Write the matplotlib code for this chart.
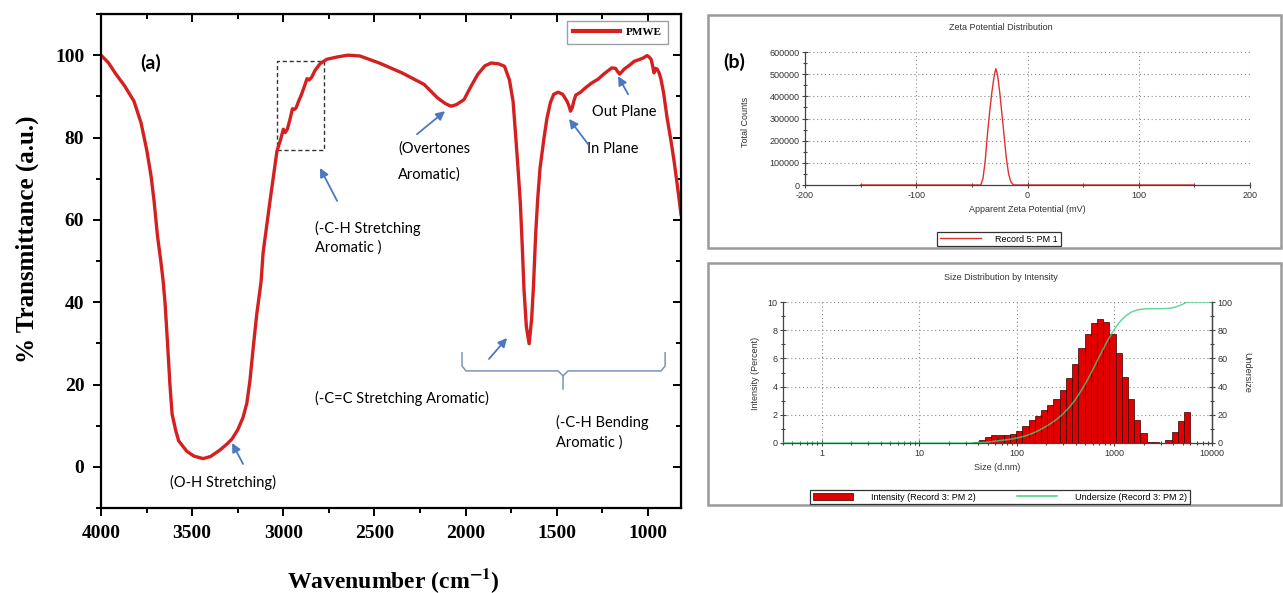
import numpy as np
import matplotlib
matplotlib.use('Agg')
import matplotlib.pyplot as plt
from matplotlib.ticker import MultipleLocator, FixedLocator, LogLocator, NullFormatter
from matplotlib.patches import Rectangle, Patch
from matplotlib.lines import Line2D

W, H = 1283, 593

# ---- (a) FTIR spectrum ----
wavenumber = [4000, 3960, 3918, 3870, 3819, 3780, 3748, 3725, 3709, 3690, 3672, 3660, 3649,
              3635, 3622, 3610, 3590, 3574, 3530, 3490, 3440, 3400, 3350, 3310, 3281,
              3250, 3221, 3200, 3183, 3165, 3146, 3122, 3111, 3073, 3035, 3015, 3000,
              2990, 2978, 2963, 2950, 2940, 2930, 2919, 2900, 2880, 2870, 2858, 2845,
              2826, 2799, 2762, 2700, 2645, 2580, 2474, 2349, 2228, 2154, 2110, 2080,
              2050, 2009, 1970, 1934, 1895, 1860, 1820, 1787, 1760, 1740, 1725, 1713,
              1700, 1690, 1680, 1667, 1652, 1638, 1628, 1616, 1605, 1592, 1570, 1554,
              1535, 1517, 1493, 1468, 1444, 1432, 1425, 1415, 1407, 1396, 1370, 1345,
              1310, 1273, 1240, 1199, 1178, 1168, 1155, 1143, 1131, 1100, 1076, 1050,
              1027, 1005, 995, 983, 975, 967, 958, 950, 940, 930, 915, 895, 875, 857,
              838, 819]
transmittance = [100, 98.2, 95.4, 92.5, 88.8, 83.5, 76.7, 70.5, 64.6, 56, 50, 45.5, 40,
                 30, 20, 12.8, 8.8, 6.3, 3.8, 2.6, 2.0, 2.5, 4.0, 5.5, 6.8,
                 9.0, 12, 15.5, 21, 29, 37, 45, 52, 64.6, 76.7, 79.5, 82,
                 81.2, 82, 84.5, 87, 86.8, 87.2, 88.5, 90.5, 93, 94.3, 94, 94.6,
                 96.3, 97.9, 99, 99.6, 100, 99.8, 98.1, 95.7, 92.9, 89.6, 88.2, 87.6,
                 88, 89.2, 92.5, 95.3, 97.4, 98.1, 97.9, 97.3, 94, 88.8, 80, 72.6,
                 64, 54, 43, 34, 29.9, 36, 44, 56.6, 65, 72.6, 80, 84.7,
                 88.5, 90.5, 91, 90.5, 88.8, 87.5, 86.4, 87.3, 88.8, 90.3, 91, 92,
                 93.2, 94.2, 95.5, 96.9, 96.8, 96.1, 95.4, 96, 96.6, 97.6, 98.5, 98.9,
                 99.3, 99.9, 99.6, 99, 97.5, 95.7, 96.8, 96.6, 95.8, 94.4, 91, 84.7, 79.5, 74.3,
                 68, 61.4]
ftir_xticks = [4000, 3500, 3000, 2500, 2000, 1500, 1000]
ftir_yticks = [0, 20, 40, 60, 80, 100]

# ---- (b) zeta potential distribution ----
zeta_mv = [-150, -45, -42, -40, -38, -36, -34, -32, -30, -28.5, -27, -25, -23, -21,
           -19, -17, -15, -13, -12, 150]
zeta_counts = [0, 0, 0, 30000, 110000, 230000, 330000, 420000, 490000, 525000, 500000,
               420000, 320000, 220000, 120000, 50000, 15000, 2000, 0, 0]
zeta_xticks = [-200, -100, 0, 100, 200]
zeta_yticks = [0, 100000, 200000, 300000, 400000, 500000, 600000]

# ---- size distribution by intensity ----
size_nm = [0.4000, 0.4632, 0.5365, 0.6213, 0.7195, 0.8332, 0.9649, 1.117, 1.294, 1.499,
           1.736, 2.010, 2.328, 2.696, 3.122, 3.615, 4.187, 4.849, 5.615, 6.503,
           7.531, 8.721, 10.10, 11.70, 13.54, 15.69, 18.17, 21.04, 24.36, 28.21,
           32.67, 37.84, 43.82, 50.75, 58.77, 68.06, 78.82, 91.28, 105.7, 122.4,
           141.8, 164.2, 190.1, 220.2, 255.0, 295.3, 342.0, 396.1, 458.7, 531.2,
           615.1, 712.4, 825.0, 955.4, 1106, 1281, 1484, 1718, 1990, 2305,
           2669, 3091, 3580, 4145, 4801, 5560, 6439, 7456, 8635, 10000]
intensity_pct = [0] * 31 + [0.05, 0.2, 0.45, 0.55, 0.55, 0.55, 0.65, 0.85, 1.2,
                            1.6, 1.95, 2.35, 2.7, 3.1, 3.75, 4.6, 5.6, 6.75, 7.7,
                            8.5, 8.8, 8.6, 7.7, 6.4, 4.7, 3.1, 1.6, 0.7, 0.1,
                            0.05, 0, 0.2, 0.8, 1.55, 2.2, 0, 0, 0, 0]
size_xticks = [1, 10, 100, 1000, 10000]

RED = '#d42020'
BLUE = '#4a78c2'
SANS = 'Liberation Sans'
SERIF = 'Liberation Serif'
NOTE = 'Lato'

plt.rcParams['mathtext.fontset'] = 'stix'

fig = plt.figure(figsize=(W / 100, H / 100), dpi=100)
fig.patch.set_facecolor('white')


def box(l, t, r, b):
    return [l / W, 1 - b / H, (r - l) / W, (b - t) / H]


# ================= (a) FTIR =================
ax = fig.add_axes(box(101, 14, 681, 508))
ax.plot(wavenumber, transmittance, color=RED, lw=2.4, label='PMWE', solid_joinstyle='round')
ax.set_xlim(4000, 819)
ax.set_ylim(-10, 110)
ax.set_xticks(ftir_xticks)
ax.set_xticklabels([str(v) for v in ftir_xticks], fontfamily=SERIF, fontweight='bold', fontsize=14)
ax.set_yticks(ftir_yticks)
ax.set_yticklabels([str(v) for v in ftir_yticks], fontfamily=SERIF, fontweight='bold', fontsize=14)
ax.xaxis.set_minor_locator(MultipleLocator(250))
ax.yaxis.set_minor_locator(MultipleLocator(10))
ax.tick_params(which='both', direction='out', width=1.4, pad=6)
ax.tick_params(which='major', length=6)
ax.tick_params(which='minor', length=3.5)
for s in ax.spines.values():
    s.set_linewidth(1.6)

top = ax.secondary_xaxis('top')
top.set_xticks(ftir_xticks)
top.xaxis.set_minor_locator(MultipleLocator(250))
top.tick_params(which='both', direction='in', labeltop=False, width=1.4)
top.tick_params(which='major', length=6)
top.tick_params(which='minor', length=3.5)
right = ax.secondary_yaxis('right')
right.set_yticks(ftir_yticks)
right.yaxis.set_minor_locator(MultipleLocator(10))
right.tick_params(which='both', direction='in', labelright=False, width=1.4)
right.tick_params(which='major', length=6)
right.tick_params(which='minor', length=3.5)

leg = ax.legend(loc='upper right', bbox_to_anchor=(0.978, 0.986), borderaxespad=0,
                prop=dict(family=SERIF, weight='bold', size=8), fancybox=False,
                edgecolor='#888888', handlelength=4.2, borderpad=0.6, handletextpad=0.5)
leg.get_frame().set_linewidth(1.0)
leg.get_lines()[0].set_linewidth(3)

fig.text(27 / W, 1 - 239 / H, '% Transmittance (a.u.)', rotation=90, ha='center', va='center',
         fontsize=18, fontfamily=SERIF, fontweight='bold')
fig.text(393 / W, 1 - 581 / H, r'Wavenumber (cm$^{\mathbf{-1}}$)', ha='center', va='center',
         fontsize=17, fontfamily=SERIF, fontweight='bold')

# dotted box around the C-H stretching steps
ax.add_patch(Rectangle((3036, 76.9), 2777 - 3036, 98.5 - 76.9, fill=False,
                       ls=(0, (3, 2)), lw=1.0, ec='#333333'))

# brace under the fingerprint region
bx = [2020, 2020, 1998, 1493, 1466, 1466]
by = [27.7, 24.5, 23.3, 23.3, 22.1, 18.9]
ax.plot(bx, by, color='#7a94b8', lw=1.1)
ax.plot([1466, 1438, 928, 906, 906], [22.1, 23.3, 23.3, 24.5, 27.7], color='#7a94b8', lw=1.1)

note = dict(fontsize=10.5, fontfamily=NOTE, ha='left', va='center')
ax.text(3786, 98, '(a)', fontsize=14, fontfamily=NOTE, fontweight='bold', ha='left', va='center')
ax.text(2371, 77.4, '(Overtones', **note)
ax.text(2371, 71.1, 'Aromatic)', **note)
ax.text(2826, 57.8, '(-C-H Stretching', **note)
ax.text(2826, 53.2, 'Aromatic )', **note)
ax.text(1309, 86.2, 'Out Plane', **note)
ax.text(1334, 77.2, 'In Plane', **note)
ax.text(2826, 16.7, '(-C=C Stretching Aromatic)', **note)
ax.text(1504, 10.7, '(-C-H Bending', **note)
ax.text(1504, 5.8, 'Aromatic )', **note)
ax.text(3622, -3.9, '(O-H Stretching)', **note)

arrows = [((3221, 0.7), (3281, 5.8)),
          ((2705, 64.6), (2799, 72.6)),
          ((2267, 80.8), (2113, 86.4)),
          ((1329, 78.4), (1433, 84.5)),
          ((1109, 90.5), (1164, 94.9)),
          ((1872, 26.2), (1773, 31.3))]
for tail, head in arrows:
    ax.annotate('', xy=head, xytext=tail,
                arrowprops=dict(arrowstyle='-|>', color=BLUE, lw=1.3, mutation_scale=13,
                                shrinkA=0, shrinkB=0))

# ================= (b) panel frames =================
for (l, t, r, b) in [(708, 15, 1281, 248), (708, 263, 1281, 505)]:
    fig.add_artist(Rectangle((l / W, 1 - b / H), (r - l) / W, (b - t) / H,
                             transform=fig.transFigure, fill=False, ec='#9a9a9a', lw=1.8))

small = dict(fontsize=6.5, fontfamily=SANS, color='#333333')
GRID = dict(ls=(0, (1, 2.5)), color='#8a8a8a', lw=0.8)

# ---- zeta potential ----
az = fig.add_axes(box(805, 52, 1250, 185))
az.plot(zeta_mv, zeta_counts, color='#e03030', lw=1.0)
az.set_xlim(-200, 200)
az.set_ylim(0, 600000)
az.set_xticks(zeta_xticks)
az.set_xticklabels([str(v) for v in zeta_xticks], **small)
az.set_yticks(zeta_yticks)
az.set_yticklabels([str(v) for v in zeta_yticks], **small)
az.xaxis.set_minor_locator(MultipleLocator(50))
az.yaxis.set_minor_locator(MultipleLocator(50000))
az.tick_params(which='both', direction='inout', color='#444444', width=0.8, pad=2)
az.tick_params(which='major', length=4)
az.tick_params(which='minor', length=3)
az.grid(True, **GRID)
az.spines['top'].set_visible(False)
az.spines['right'].set_visible(False)
for s in ('left', 'bottom'):
    az.spines[s].set_color('#444444')
    az.spines[s].set_linewidth(0.9)
fig.text(1001 / W, 1 - 28 / H, 'Zeta Potential Distribution', ha='center', va='center', **small)
fig.text(1027 / W, 1 - 209 / H, 'Apparent Zeta Potential (mV)', ha='center', va='center', **small)
fig.text(746 / W, 1 - 122 / H, 'Total Counts', rotation=90, ha='center', va='center', **small)
fig.text(734 / W, 1 - 62 / H, '(b)', ha='center', va='center', fontsize=14,
         fontfamily=NOTE, fontweight='bold')
zleg = fig.legend([Line2D([], [], color='#e03030', lw=1.0)], ['Record 5: PM 1'],
                  loc='center', bbox_to_anchor=(999 / W, 1 - 239 / H), fancybox=False,
                  edgecolor='#333333', prop=dict(family=SANS, size=6.5), handlelength=4.5,
                  handletextpad=1.6, borderpad=0.3, framealpha=1)
zleg.get_frame().set_linewidth(0.9)

# ---- size distribution ----
sizes = np.array(size_nm)
half = 10 ** (np.log10(sizes[1] / sizes[0]) / 2)
left_edge = sizes / half
asz = fig.add_axes(box(783, 302, 1212, 443))
asz.set_xscale('log')
asz.bar(left_edge, intensity_pct, width=left_edge * half * half - left_edge, align='edge',
        color='#e00000', edgecolor='#300000', lw=0.5, zorder=2)
asz.set_xlim(0.4, 10000)
asz.set_ylim(0, 10)
asz.xaxis.set_major_locator(FixedLocator(size_xticks))
asz.set_xticklabels([str(v) for v in size_xticks], **small)
asz.xaxis.set_minor_locator(LogLocator(base=10, subs=range(2, 10)))
asz.xaxis.set_minor_formatter(NullFormatter())
asz.set_yticks([0, 2, 4, 6, 8, 10])
asz.set_yticklabels(['0', '2', '4', '6', '8', '10'], **small)
asz.yaxis.set_minor_locator(MultipleLocator(1))
asz.tick_params(which='both', direction='inout', color='#444444', width=0.8, pad=2)
asz.tick_params(which='major', length=4)
asz.tick_params(which='minor', length=3)
asz.grid(True, which='major', **GRID)
asz.set_axisbelow(True)
asz.spines['top'].set_visible(False)
for s in ('left', 'bottom', 'right'):
    asz.spines[s].set_color('#444444')
    asz.spines[s].set_linewidth(0.9)

und = asz.twinx()
undersize = np.cumsum(intensity_pct)
undersize = undersize / undersize[-1] * 100
und.plot(sizes, undersize, color='#40d080', lw=1.1, alpha=0.8)
und.set_ylim(0, 100)
und.set_yticks([0, 20, 40, 60, 80, 100])
und.set_yticklabels(['0', '20', '40', '60', '80', '100'], **small)
und.yaxis.set_minor_locator(MultipleLocator(10))
und.tick_params(which='both', direction='inout', color='#444444', width=0.8, pad=2)
und.tick_params(which='major', length=4)
und.tick_params(which='minor', length=3)
for s in ('top', 'left', 'bottom'):
    und.spines[s].set_visible(False)
und.spines['right'].set_color('#444444')
und.spines['right'].set_linewidth(0.9)

fig.text(1001 / W, 1 - 277 / H, 'Size Distribution by Intensity', ha='center', va='center', **small)
fig.text(997 / W, 1 - 467 / H, 'Size (d.nm)', ha='center', va='center', **small)
fig.text(756 / W, 1 - 373 / H, 'Intensity (Percent)', rotation=90, ha='center', va='center', **small)
fig.text(1247 / W, 1 - 372 / H, 'Undersize', rotation=270, ha='center', va='center', **small)
sleg = fig.legend([Patch(facecolor='#e00000', edgecolor='#300000', lw=0.5),
                   Line2D([], [], color='#40d080', lw=1.1)],
                  ['Intensity (Record 3: PM 2)', 'Undersize (Record 3: PM 2)'], ncol=2,
                  loc='center', bbox_to_anchor=(1000 / W, 1 - 497 / H), fancybox=False,
                  edgecolor='#333333', prop=dict(family=SANS, size=6.5), handlelength=4.5,
                  handletextpad=2.0, columnspacing=4.5, borderpad=0.3, framealpha=1)
sleg.get_frame().set_linewidth(0.9)

fig.savefig('out.png', dpi=100)
